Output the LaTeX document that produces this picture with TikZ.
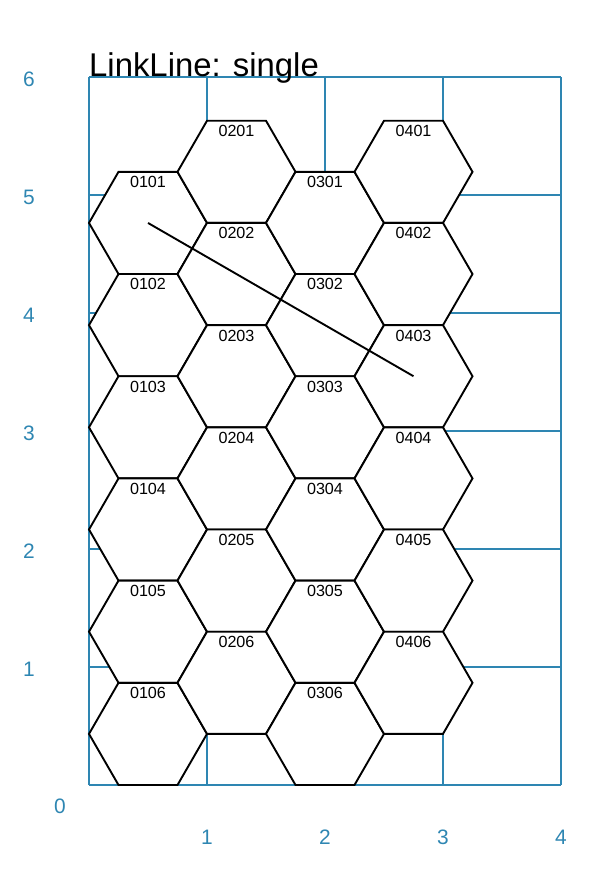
\documentclass[tikz,border=0pt]{standalone}
\usepackage{fontspec}
\setmainfont{Liberation Sans}
\usetikzlibrary{shapes.geometric}
\definecolor{axisblue}{RGB}{46,134,178}
\begin{document}
\begin{tikzpicture}[x=118bp,y=118bp,
  gridline/.style={draw=axisblue,line width=1.8bp},
  hexcell/.style={regular polygon,regular polygon sides=6,minimum size=118bp,inner sep=0pt,outer sep=0pt,draw=black,fill=white,line width=1.9bp},
  hexlabel/.style={font=\fontsize{16.2}{17}\selectfont,inner sep=0pt},
  axislabel/.style={font=\fontsize{21}{22}\selectfont,text=axisblue,inner sep=0pt},
  titlelabel/.style={font=\fontsize{33}{36}\selectfont,inner sep=0pt},
  linkline/.style={draw=black,line width=1.9bp}]
\useasboundingbox (-0.75424,-0.76271) rectangle (4.45763,6.65254);
% grid
\foreach \i in {0,...,4} \draw[gridline] (\i,0) -- (\i,6);
\foreach \j in {0,...,6} \draw[gridline] (0,\j) -- (4,\j);
% hexes
\foreach \c in {1,...,4} {
  \foreach \r in {1,...,6} {
    \pgfmathsetmacro\cx{0.5+0.75*(\c-1)}
    \pgfmathsetmacro\cy{(6.5-\r+0.5*(1-mod(\c,2)))*0.866025}
    \node[hexcell] (hex0\c0\r) at (\cx,\cy) {};
    \node[hexlabel] (lab0\c0\r) at (\cx,\cy+0.345) {0\c0\r};
  }
}
% link line
\draw[linkline] (hex0101.center) -- (hex0403.center);
% title
\node[titlelabel,anchor=base west] (title) at (0,6) {LinkLine: single};
% axis labels
\foreach \k in {1,...,6} \node[axislabel] (ylab\k) at (-0.508,\k-0.022) {\k};
\foreach \k in {1,...,4} \node[axislabel] (xlab\k) at (\k,-0.441) {\k};
\node[axislabel] (zerolab) at (-0.246,-0.178) {0};
\end{tikzpicture}
\end{document}
